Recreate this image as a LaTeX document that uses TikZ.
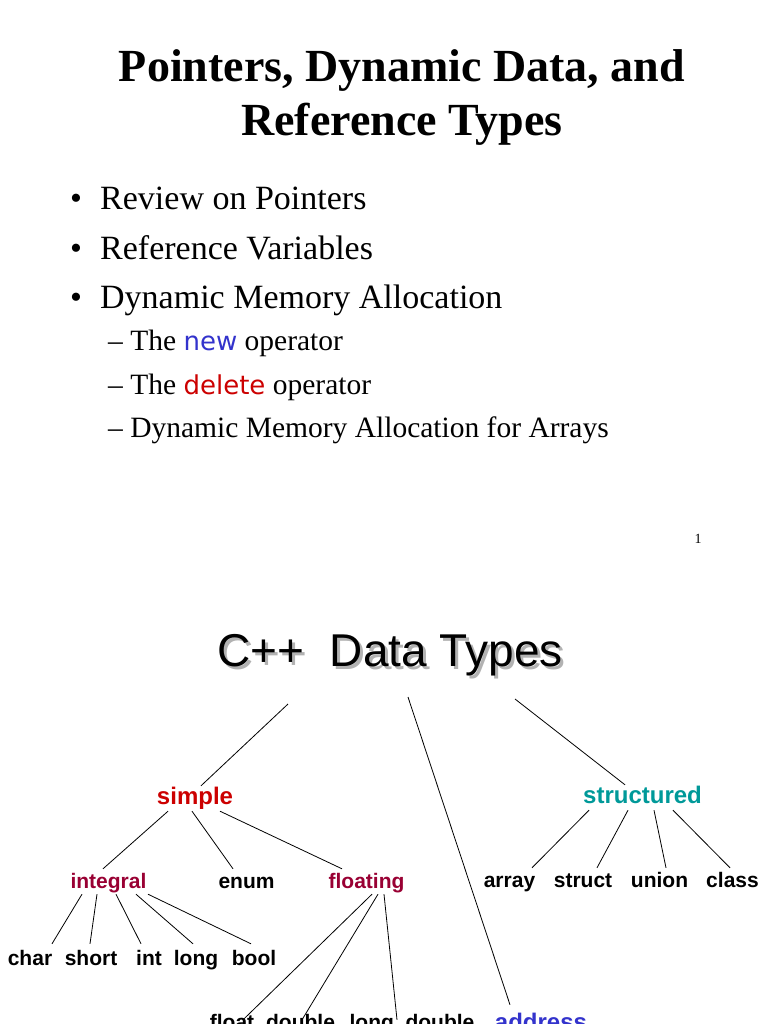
\documentclass[tikz,border=0pt]{standalone}
\usepackage{fontspec}
\setmainfont{Liberation Serif}
\newfontfamily\arialfont{Liberation Sans}
\newfontfamily\comicfont{DejaVu Sans}
\definecolor{newblue}{RGB}{51,51,204}
\definecolor{delred}{RGB}{204,0,0}
\definecolor{simplered}{RGB}{204,0,0}
\definecolor{sortred}{RGB}{153,0,51}
\definecolor{structteal}{RGB}{0,153,153}
\newcommand\kw[2]{{\comicfont\fontsize{26}{30}\selectfont\color{#1}#2}}
\tikzset{
  heading/.style={font=\bfseries\fontsize{46}{52}\selectfont, anchor=base, inner sep=0pt},
  point/.style={font=\fontsize{34}{40}\selectfont, anchor=base west, inner sep=0pt},
  subpoint/.style={font=\fontsize{29.5}{34}\selectfont, anchor=base west, inner sep=0pt},
  typehead/.style={font=\arialfont\fontsize{46}{52}\selectfont, anchor=base, inner sep=0pt},
  kind/.style={font=\arialfont\bfseries\fontsize{24}{28}\selectfont, anchor=base, inner sep=0pt, text height=18pt, text depth=7pt},
  sort/.style={font=\arialfont\bfseries\fontsize{21}{25}\selectfont, anchor=base, inner sep=0pt, text height=19pt, text depth=6pt},
  leaf/.style={sort, text height=21pt, text depth=5pt},
  branch/.style={line width=0.8pt}
}
\begin{document}
\begin{tikzpicture}[x=1pt,y=-1pt]
\useasboundingbox (0,0) rectangle (768,1024);
% first slide
\node[heading] (title1) at (402,82) {Pointers, Dynamic Data, and};
\node[heading] (title2) at (402,136) {Reference Types};
\foreach \l [count=\i] in {Review on Pointers, Reference Variables, Dynamic Memory Allocation}
  \node[point] (item\i) at (70,160+49.5*\i) {\makebox[30pt][l]{•}\l};
\node[subpoint] (newop) at (108,350) {– The \kw{newblue}{new} operator};
\node[subpoint] (delop) at (108,394) {– The \kw{delred}{delete} operator};
\node[subpoint] (arrays) at (108,437) {– Dynamic Memory Allocation for Arrays};
\node[anchor=base, inner sep=0pt, font=\fontsize{14}{16}\selectfont] (pagenum) at (698,543) {1};
% second slide
\node[typehead, black!30] (shadow) at (393,669) {C++\ \ Data Types};
\node[typehead] (types) at (390,666) {C++\ \ Data Types};
\coordinate (simpletop) at (288,704);
\coordinate (addrtop) at (408,697);
\coordinate (structtop) at (515,699);
\node[kind, simplered] (simple) at (195,804) {simple};
\node[kind, structteal] (structured) at (642.5,803) {structured};
\node[sort, sortred] (integral) at (108.5,888) {integral};
\node[sort] (enum) at (246.5,888) {enum};
\node[sort, sortred] (floating) at (366.5,888) {floating};
\foreach \x/\l in {509.5/array, 583/struct, 659.5/union, 732.5/class}
  \node[sort] (\l) at (\x,887) {\l};
\foreach \x/\l in {30/char, 91/short, 149/int, 196/long, 254/bool}
  \node[leaf] (\l) at (\x,965) {\l};
\node[leaf] (float) at (232,1029) {float};
\node[leaf] (double) at (300.5,1029) {double};
\node[leaf] (ldouble) at (412,1029) {long\ \ double};
\node[kind, text height=25pt, newblue] (address) at (541,1030) {address};
% branches
\draw[branch] (simpletop) -- ([xshift=6pt]simple.north);
\draw[branch] (addrtop) -- ([xshift=-31pt]address.north);
\draw[branch] (structtop) -- ([xshift=-17.5pt]structured.north);
\foreach \a/\n/\b in {-27/integral/-5.5, -3/enum/-13.5, 25/floating/-24.5}
  \draw[branch] ([xshift=\a pt]simple.south) -- ([xshift=\b pt]\n.north);
\foreach \a/\n/\b in {-26.5/char/22, -11.5/short/-1, 7.5/int/-8, 27.5/long/-3, 39.5/bool/-3}
  \draw[branch] ([xshift=\a pt]integral.south) -- ([xshift=\b pt]\n.north);
\foreach \a/\n/\b in {5.5/float/11, 11.5/double/1.5, 17.5/ldouble/-15}
  \draw[branch] ([xshift=\a pt]floating.south) -- ([xshift=\b pt,yshift=-12pt]\n.north);
\foreach \a/\n/\b in {-53.5/array/22.5, -14.5/struct/14, 11.5/union/6.5, 30.5/class/-2.5}
  \draw[branch] ([xshift=\a pt]structured.south) -- ([xshift=\b pt]\n.north);
\end{tikzpicture}
\end{document}
